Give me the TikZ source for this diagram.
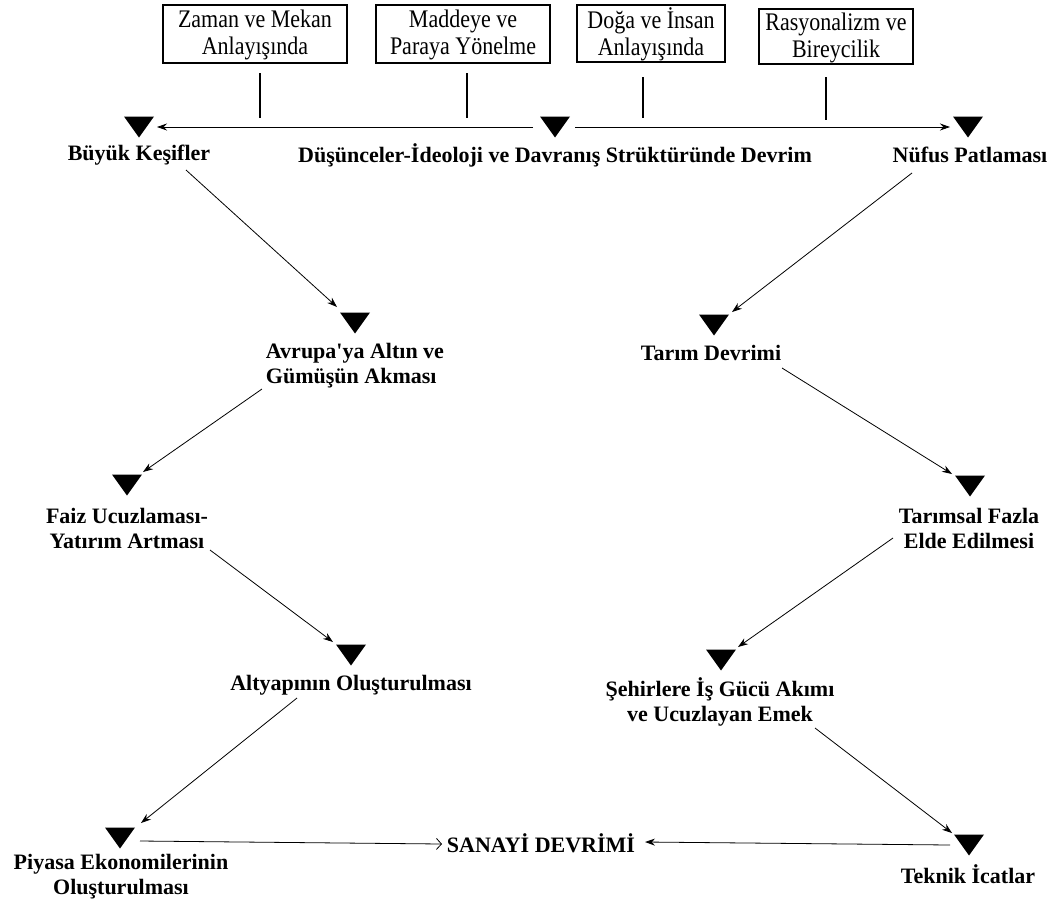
\documentclass[tikz,border=0pt]{standalone}
\usepackage{fontspec}
\usepackage{graphicx}
\setmainfont{Liberation Serif}
\usetikzlibrary{arrows.meta}
% box captions are set slightly taller than wide
\newcommand{\talltext}[1]{\scalebox{1}[1.15]{\begin{tabular}{@{}c@{}}#1\end{tabular}}}
\begin{document}
\begin{tikzpicture}[x=1pt,y=-1pt,
  box/.style={draw, line width=1.4pt, inner sep=0pt, align=center,
    font=\fontsize{22}{23.5}\selectfont},
  boxtext/.style={inner sep=0pt, font=\fontsize{22}{23.5}\selectfont},
  lbl/.style={inner sep=0pt, align=center,
    font=\fontsize{22}{25}\selectfont\bfseries},
  tri/.style={minimum width=30pt, minimum height=21pt, inner sep=0pt,
    path picture={\fill (path picture bounding box.north west)
      -- (path picture bounding box.north east)
      -- (path picture bounding box.south) -- cycle;}},
  conn/.style={line width=0.8pt, -{Stealth[length=10pt,width=7pt]}},
  openconn/.style={line width=0.8pt, -{Straight Barb[length=5pt,width=11pt]}},
  tick/.style={line width=1.3pt}]
\useasboundingbox (0,0) rectangle (1054,908);

% top boxes, with their captions set a little lower than centre
\node[box, minimum width=184pt, minimum height=58pt] (b1) at (255,34) {};
\node[box, minimum width=174pt, minimum height=58pt] (b2) at (463,34) {};
\node[box, minimum width=148pt, minimum height=57pt] (b3) at (651,33.5) {};
\node[box, minimum width=154pt, minimum height=55pt] (b4) at (836,36.5) {};
\node[boxtext] (c1) at ([yshift=-2pt]b1.center) {\talltext{Zaman ve Mekan\\Anlayışında}};
\node[boxtext] (c2) at ([yshift=-2pt]b2.center) {\talltext{Maddeye ve\\Paraya Yönelme}};
\node[boxtext] (c3) at ([yshift=-2pt]b3.center) {\talltext{Doğa ve İnsan\\Anlayışında}};
\node[boxtext] (c4) at ([yshift=-2pt]b4.center) {\talltext{Rasyonalizm ve\\Bireycilik}};

% triangles
\node[tri] (tB) at (139,127) {};
\node[tri] (tD) at (555,127) {};
\node[tri] (tN) at (968,127) {};
\node[tri] (tA) at (355,323) {};
\node[tri] (tT) at (714,325) {};
\node[tri] (tF) at (127,485) {};
\node[tri] (tTF) at (970,486) {};
\node[tri] (tAl) at (351,655) {};
\node[tri] (tS) at (721,660) {};
\node[tri] (tP) at (120,838) {};
\node[tri] (tK) at (969,845) {};

% labels
\node[lbl] (lB) at (139,155) {Büyük Keşifler};
\node[lbl] (lD) at (555,155) {Düşünceler-İdeoloji ve Davranış Strüktüründe Devrim};
\node[lbl] (lN) at (970,155) {Nüfus Patlaması};
\node[lbl, align=left] (lA) at (355,366) {Avrupa\textquotesingle ya Altın ve\\Gümüşün Akması};
\node[lbl] (lT) at (711,353) {Tarım Devrimi};
\node[lbl] (lF) at (127,528) {Faiz Ucuzlaması-\\Yatırım Artması};
\node[lbl] (lTF) at (969,528) {Tarımsal Fazla\\Elde Edilmesi};
\node[lbl] (lAl) at (351,685) {Altyapının Oluşturulması};
\node[lbl] (lS) at (720,702) {Şehirlere İş Gücü Akımı\\ve Ucuzlayan Emek};
\node[lbl] (lP) at (121,877) {Piyasa Ekonomilerinin\\Oluşturulması};
\node[lbl] (lK) at (968,874) {Teknik İcatlar};
\node[lbl] (lSan) at (541,843) {SANAYİ DEVRİMİ};

% ticks from the boxes down to the top line
\draw[tick] ([shift={(5,39)}]b1.center) -- ++(0,45);
\draw[tick] ([shift={(4,39)}]b2.center) -- ++(0,45);
\draw[tick] ([shift={(-8,43.5)}]b3.center) -- ++(0,41);
\draw[tick] ([shift={(-10,40.5)}]b4.center) -- ++(0,43);

% top horizontal arrows
\draw[conn] ([shift={(-22,0)}]tD.center) -- ([shift={(18,0)}]tB.center);
\draw[conn] ([shift={(20,0)}]tD.center) -- ([shift={(-18,0)}]tN.center);

% left chain
\draw[conn] ([shift={(47,15)}]lB.center) -- ([shift={(-18,-16)}]tA.center);
\draw[conn] ([shift={(-93,23)}]lA.center) -- ([shift={(16,-13)}]tF.center);
\draw[conn] ([shift={(83,22)}]lF.center) -- ([shift={(-18,-13)}]tAl.center);
\draw[conn] ([shift={(-54,13)}]lAl.center) -- ([shift={(21,-15)}]tP.center);

% right chain
\draw[conn] ([shift={(-58,18)}]lN.center) -- ([shift={(18,-13)}]tT.center);
\draw[conn] ([shift={(71,15)}]lT.center) -- ([shift={(-18,-12)}]tTF.center);
\draw[conn] ([shift={(-76,10)}]lTF.center) -- ([shift={(17,-13)}]tS.center);
\draw[conn] ([shift={(95,26)}]lS.center) -- ([shift={(-17,-12)}]tK.center);

% into the industrial revolution
\draw[openconn] ([shift={(20,3)}]tP.center) -- ([shift={(-99,1)}]lSan.center);
\draw[conn] ([shift={(-19,0)}]tK.center) -- ([shift={(104,-1)}]lSan.center);
\end{tikzpicture}
\end{document}
